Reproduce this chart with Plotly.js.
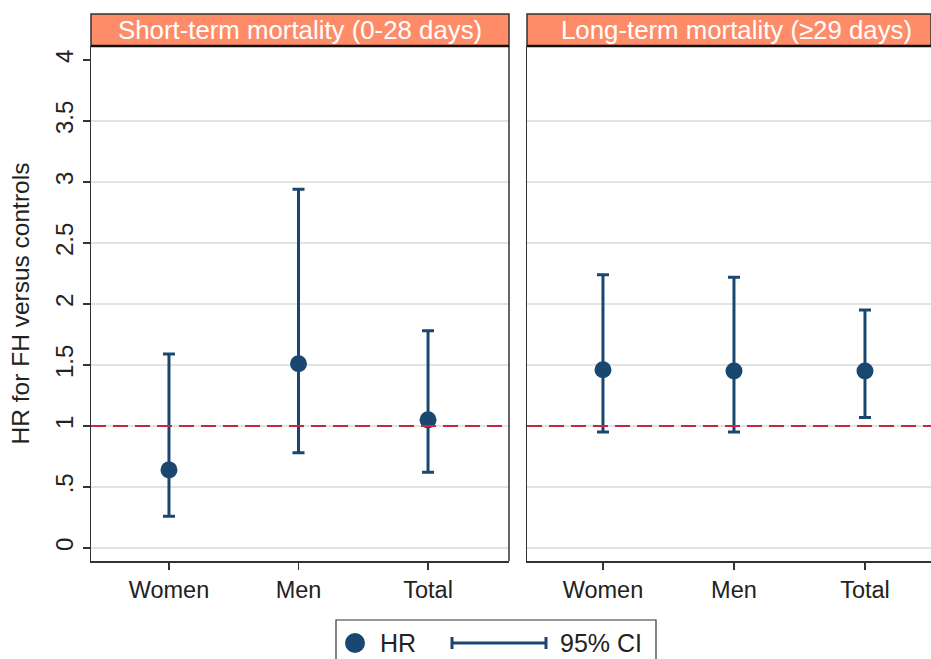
<!DOCTYPE html>
<html>
<head>
<meta charset="utf-8">
<script src="https://cdn.plot.ly/plotly-3.0.1.min.js"></script>
<style>html,body{margin:0;padding:0;background:#fff;}#chart{width:931px;height:659px;}</style>
</head>
<body>
<div id="chart"></div>
<script>
const categories = ['Women', 'Men', 'Total'];
const shortHR = [0.64, 1.51, 1.05];
const shortLo = [0.26, 0.78, 0.62];
const shortHi = [1.59, 2.94, 1.78];
const longHR = [1.46, 1.45, 1.45];
const longLo = [0.95, 0.95, 1.07];
const longHi = [2.24, 2.22, 1.95];
const panelTitles = ['Short-term mortality (0-28 days)', 'Long-term mortality (\u226529 days)'];
const yTickVals = [0, 0.5, 1, 1.5, 2, 2.5, 3, 3.5, 4];
const yTickText = ['0', '.5', '1', '1.5', '2', '2.5', '3', '3.5', '4'];
const gridVals = [0, 0.5, 1, 1.5, 2, 2.5, 3, 3.5];
const legendLabels = ['HR', '95% CI'];
const refValue = 1;

const W = 931, H = 659;
const px = v => v / W;
const py = v => 1 - v / H;
const navy = '#1a476f';
const FONT = 'Liberation Sans, Arial, Helvetica, sans-serif';
const txt = '#222222';

function trace(hr, lo, hi, xa, ya) {
  return {
    type: 'scatter', mode: 'markers', x: categories, y: hr, xaxis: xa, yaxis: ya,
    marker: {color: navy, size: 17},
    error_y: {type: 'data', symmetric: false,
      array: hi.map((h, i) => h - hr[i]), arrayminus: lo.map((l, i) => hr[i] - l),
      color: navy, thickness: 3, width: 6},
    showlegend: false, hoverinfo: 'x+y'
  };
}

const data = [
  {type: 'scatter', x: [], y: [], xaxis: 'x', yaxis: 'y3', showlegend: false, hoverinfo: 'skip'},
  {type: 'scatter', x: [], y: [], xaxis: 'x2', yaxis: 'y4', showlegend: false, hoverinfo: 'skip'},
  trace(shortHR, shortLo, shortHi, 'x', 'y'),
  trace(longHR, longLo, longHi, 'x2', 'y2')
];

const yDom = [py(561), py(46)];
const yRange = [-0.107, 4.115];
const xCommon = {type: 'category', showgrid: false, zeroline: false, showline: true, mirror: false,
  linecolor: '#333', linewidth: 1.5, ticks: 'outside', ticklen: 7, tickwidth: 1.2, tickcolor: '#333',
  tickfont: {family: FONT, size: 23.5, color: txt}, fixedrange: true};

const layout = {
  width: W, height: H, margin: {l: 0, r: 0, t: 0, b: 0},
  paper_bgcolor: '#fff', plot_bgcolor: 'rgba(0,0,0,0)', showlegend: false,
  font: {family: FONT, color: txt},
  xaxis: Object.assign({}, xCommon, {domain: [px(91), px(509)], range: [-0.602, 2.625], anchor: 'y'}),
  xaxis2: Object.assign({}, xCommon, {domain: [px(527), 1], range: [-0.58, 2.504], anchor: 'y2'}),
  yaxis: {domain: yDom, range: yRange, anchor: 'x', tickvals: yTickVals, ticktext: yTickText,
    tickangle: -90, showgrid: false, zeroline: false, showline: true, linecolor: '#333', linewidth: 1.5,
    ticks: 'outside', ticklen: 7, tickwidth: 1.2, tickcolor: '#333',
    tickfont: {family: FONT, size: 24, color: txt},
    title: {text: 'HR for FH versus controls', font: {family: FONT, size: 24.5, color: txt}, standoff: 14}},
  yaxis2: {domain: yDom, range: yRange, anchor: 'x2', showgrid: false, zeroline: false, showline: true,
    linecolor: '#333', linewidth: 1.5, showticklabels: false, ticks: ''},
  yaxis3: {domain: yDom, range: yRange, overlaying: 'y', anchor: 'x', tickvals: gridVals, showticklabels: false,
    ticks: '', showgrid: true, gridcolor: '#e3e3e3', gridwidth: 1.5, zeroline: false, showline: false},
  yaxis4: {domain: yDom, range: yRange, overlaying: 'y2', anchor: 'x2', tickvals: gridVals, showticklabels: false,
    ticks: '', showgrid: true, gridcolor: '#e3e3e3', gridwidth: 1.5, zeroline: false, showline: false},
  shapes: [],
  annotations: []
};

// right border of left panel
layout.shapes.push({type: 'line', xref: 'paper', yref: 'paper', x0: px(509), x1: px(509), y0: yDom[0], y1: yDom[1], line: {color: '#333', width: 1.5}});

// reference lines
[['x', 'y'], ['x2', 'y2']].forEach(r => {
  layout.shapes.push({type: 'line', xref: r[0] + ' domain', yref: r[1], x0: 0, x1: 1, y0: refValue, y1: refValue,
    layer: 'above', line: {color: '#c8283e', width: 2, dash: '15px,7px'}});
});

// headers
const headers = [[91, 509], [527, 931]];
headers.forEach((h, i) => {
  layout.shapes.push({type: 'rect', xref: 'paper', yref: 'paper', x0: px(h[0]), x1: px(h[1]), y0: py(46), y1: py(14),
    fillcolor: '#ff8c69', line: {color: '#333', width: 1.5}});
  layout.shapes.push({type: 'line', xref: 'paper', yref: 'paper', x0: px(h[0]), x1: px(h[1]), y0: py(46), y1: py(46),
    line: {color: '#111', width: 2.5}});
  layout.annotations.push({xref: 'paper', yref: 'paper', x: px((h[0] + (i === 0 ? h[1] : 945)) / 2), y: py(30),
    text: panelTitles[i], showarrow: false, xanchor: 'center', yanchor: 'middle',
    font: {family: FONT, size: 25.8, color: '#ffffff'}});
});

// legend (manual)
layout.shapes.push({type: 'rect', xref: 'paper', yref: 'paper', x0: px(336), x1: px(656), y0: py(672), y1: py(620),
  fillcolor: 'rgba(0,0,0,0)', line: {color: '#333', width: 1.2}});
layout.shapes.push({type: 'circle', xref: 'paper', yref: 'paper', x0: px(345), x1: px(365), y0: py(653), y1: py(633),
  fillcolor: navy, line: {color: navy, width: 0}});
layout.shapes.push({type: 'line', xref: 'paper', yref: 'paper', x0: px(452), x1: px(546), y0: py(643), y1: py(643), line: {color: navy, width: 3}});
layout.shapes.push({type: 'line', xref: 'paper', yref: 'paper', x0: px(452), x1: px(452), y0: py(649), y1: py(637), line: {color: navy, width: 3}});
layout.shapes.push({type: 'line', xref: 'paper', yref: 'paper', x0: px(546), x1: px(546), y0: py(649), y1: py(637), line: {color: navy, width: 3}});
layout.annotations.push({xref: 'paper', yref: 'paper', x: px(378), y: py(643), text: legendLabels[0], showarrow: false,
  xanchor: 'left', yanchor: 'middle', font: {family: FONT, size: 25, color: txt}});
layout.annotations.push({xref: 'paper', yref: 'paper', x: px(558), y: py(643), text: legendLabels[1], showarrow: false,
  xanchor: 'left', yanchor: 'middle', font: {family: FONT, size: 25, color: txt}});

Plotly.newPlot('chart', data, layout, {displayModeBar: false, staticPlot: true});
</script>
</body>
</html>
